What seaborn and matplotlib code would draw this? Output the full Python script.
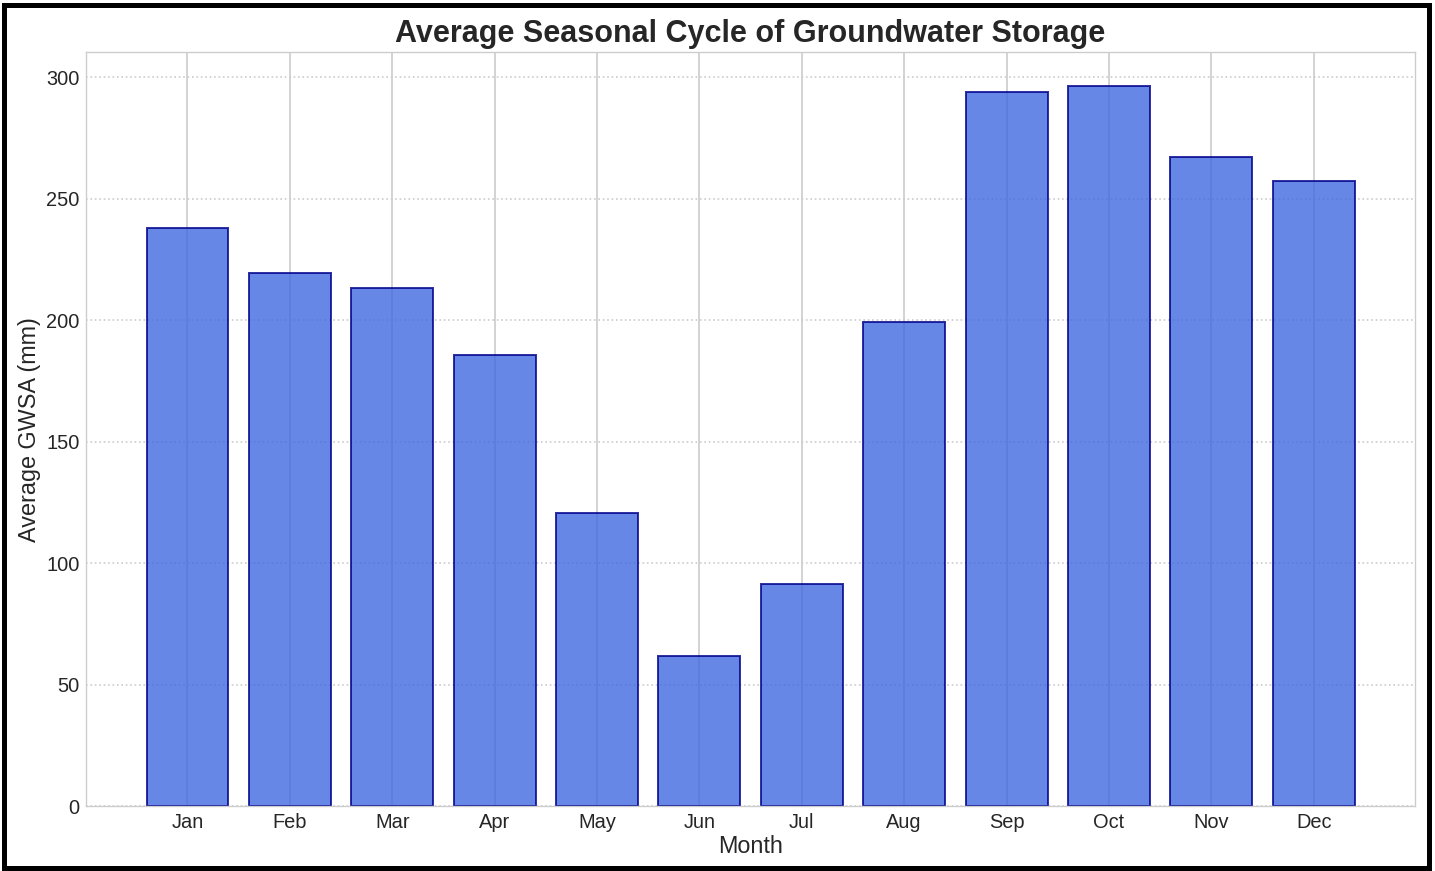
import matplotlib
matplotlib.use("Agg")
import matplotlib.pyplot as plt
import seaborn as sns
import pandas as pd
from matplotlib.patches import Rectangle

# Data
months = ['Jan', 'Feb', 'Mar', 'Apr', 'May', 'Jun',
          'Jul', 'Aug', 'Sep', 'Oct', 'Nov', 'Dec']
avg_gwsa = [237.9, 219.3, 213.2, 185.6, 120.6, 61.7,
            91.4, 199.2, 293.8, 296.3, 267.1, 257.2]

sns.set_style('whitegrid')
plt.rcParams['font.family'] = ['Liberation Sans', 'DejaVu Sans']

df = pd.DataFrame({'Month': months, 'GWSA': avg_gwsa})

fig, ax = plt.subplots(figsize=(11.96, 7.26), dpi=120)
fig.subplots_adjust(left=0.06, right=0.986, top=0.940, bottom=0.0746)

sns.barplot(data=df, x='Month', y='GWSA', color='royalblue', alpha=0.8,
            saturation=1, edgecolor='darkblue', linewidth=1.2,
            width=0.8, errorbar=None, ax=ax)

# Grid: solid vertical, dotted horizontal
ax.xaxis.grid(True, color='.8', linestyle='-', linewidth=1)
ax.yaxis.grid(True, color='.8', linestyle=':', linewidth=1)
ax.set_axisbelow(True)

ax.set_xlim(-0.99, 11.99)
ax.set_ylim(0, 310.4)
ax.set_yticks([0, 50, 100, 150, 200, 250, 300])

ax.set_title('Average Seasonal Cycle of Groundwater Storage',
             fontsize=18.3, fontweight='bold', color='.15', pad=6)
ax.set_xlabel('Month', fontsize=14, color='.15', labelpad=2)
ax.set_ylabel('Average GWSA (mm)', fontsize=14, color='.15', labelpad=3)
ax.tick_params(axis='both', labelsize=12, colors='.15', length=0, pad=4)

for spine in ax.spines.values():
    spine.set_color('.8')

# Black frame around the figure
fig.patches.append(Rectangle((0.003, 0.004), 0.993, 0.99, transform=fig.transFigure,
                             fill=False, edgecolor='black', linewidth=3, zorder=10))

fig.savefig('out.png', dpi=120)
plt.close(fig)
